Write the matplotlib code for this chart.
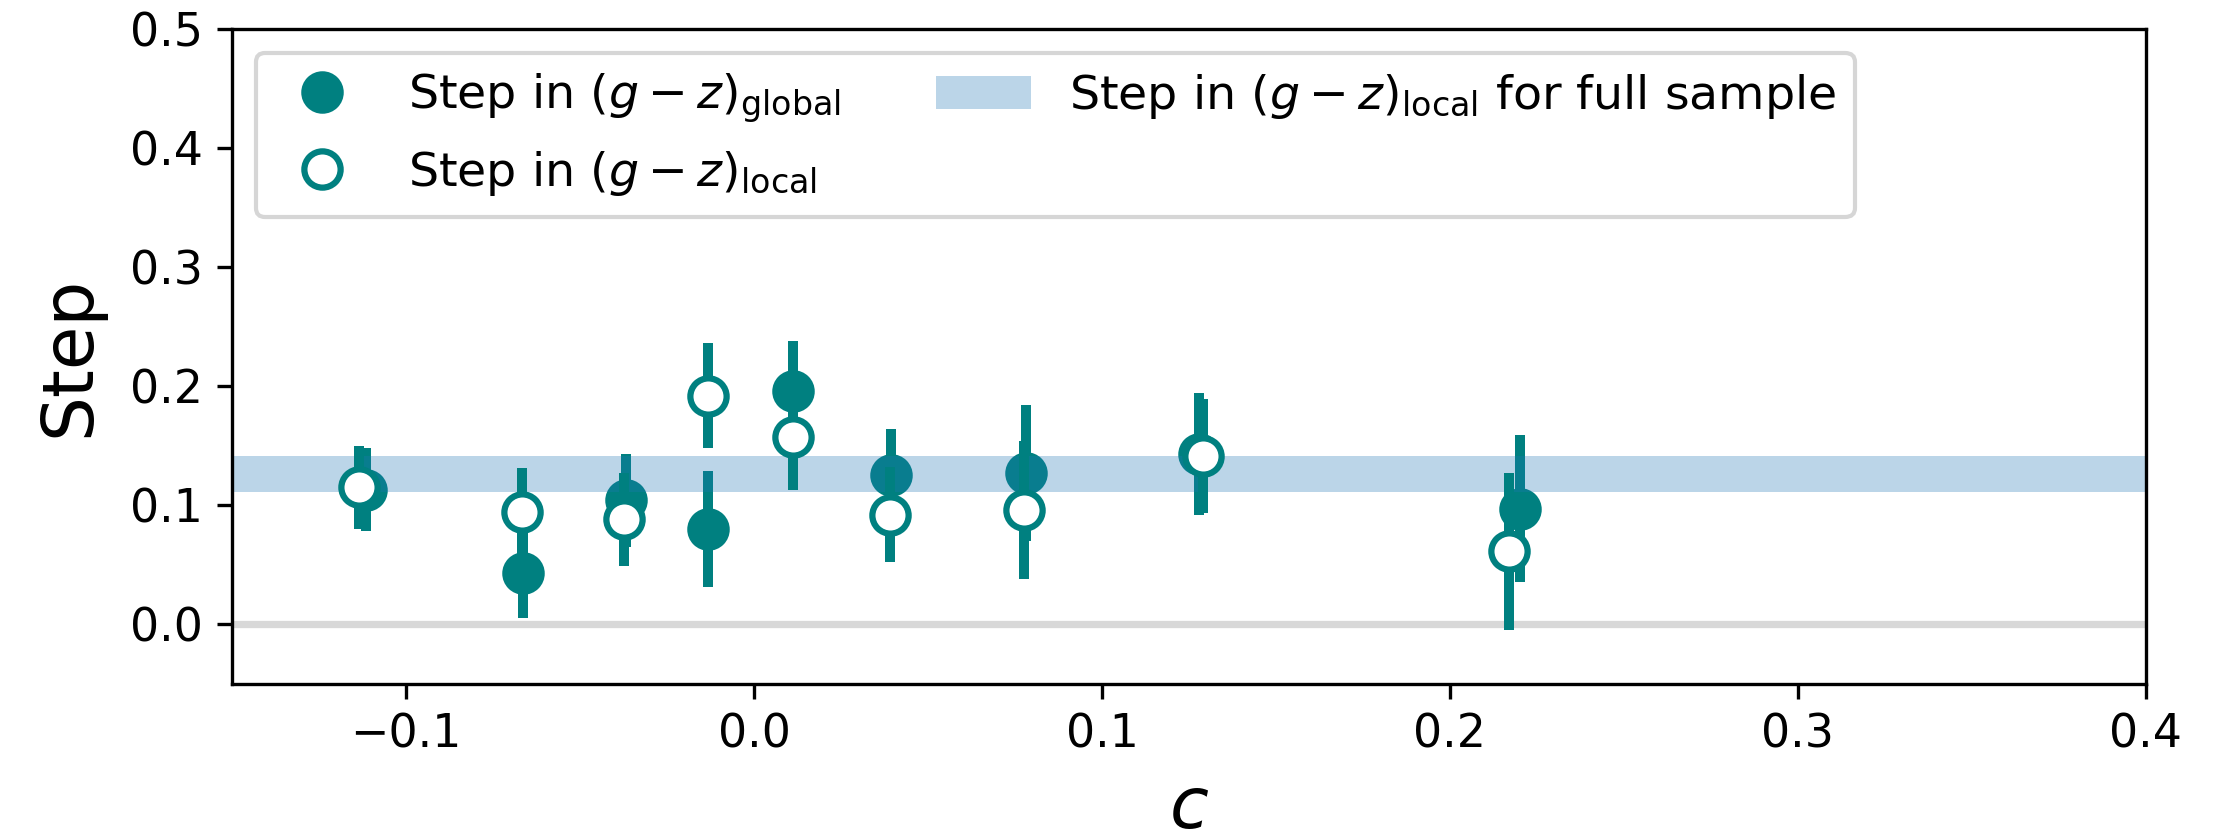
import matplotlib
matplotlib.use("Agg")
import matplotlib.pyplot as plt
from matplotlib.lines import Line2D
from matplotlib.patches import Patch

# ---- data ----
c_global = [-0.1114, -0.0663, -0.0368, -0.0132, 0.0112, 0.0394, 0.0781, 0.128, 0.220]
step_global = [0.113, 0.043, 0.104, 0.080, 0.196, 0.125, 0.127, 0.143, 0.097]
err_global = [0.035, 0.038, 0.039, 0.049, 0.042, 0.039, 0.057, 0.051, 0.062]

c_local = [-0.1134, -0.0666, -0.0373, -0.0132, 0.0112, 0.0390, 0.0775, 0.129, 0.217]
step_local = [0.115, 0.094, 0.088, 0.192, 0.157, 0.092, 0.096, 0.141, 0.061]
err_local = [0.035, 0.037, 0.039, 0.044, 0.044, 0.040, 0.058, 0.048, 0.066]

full_sample_low = 0.111
full_sample_high = 0.141

label_global = r'Step in $(g-z)_{\rm global}$'
label_local = r'Step in $(g-z)_{\rm local}$'
label_full = r'Step in $(g-z)_{\rm local}$ for full sample'
xlabel = r'$c$'
ylabel = 'Step'

teal = 'teal'

fig = plt.figure(figsize=(2233 / 300, 836 / 300), dpi=300)
ax = fig.add_axes([0.1039, 0.1824, 0.961 - 0.1039, 0.9653 - 0.1824])

ax.axhline(0, color='gray', alpha=0.3, lw=1.75, zorder=1)

ax.errorbar(c_global, step_global, yerr=err_global, fmt='o', color=teal,
            ms=8.7, mew=1.5, elinewidth=2.4, capsize=0, zorder=2)

ax.axhspan(full_sample_low, full_sample_high, color='C0', alpha=0.3, lw=0, zorder=2.5)

ax.errorbar(c_local, step_local, yerr=err_local, fmt='o', color=teal,
            mfc='white', mec=teal, ms=8.7, mew=1.5, elinewidth=2.4, capsize=0, zorder=3)

ax.set_xlim(-0.15, 0.4)
ax.set_ylim(-0.05, 0.5)
ax.set_xticks([-0.1, 0.0, 0.1, 0.2, 0.3, 0.4])
ax.set_yticks([0.0, 0.1, 0.2, 0.3, 0.4, 0.5])
ax.tick_params(labelsize=11)
ax.set_xlabel(xlabel, fontsize=17)
ax.set_ylabel(ylabel, fontsize=17, labelpad=6)

handles = [
    Line2D([], [], marker='o', ls='none', color=teal, ms=8.7, mew=1.5),
    Line2D([], [], marker='o', ls='none', color=teal, mfc='white', mec=teal, ms=8.7, mew=1.5),
    Patch(facecolor='C0', alpha=0.3, edgecolor='none'),
]
ax.legend(handles, [label_global, label_local, label_full], loc='upper left',
          ncol=2, fontsize=11.4)

fig.savefig('out.png', dpi=300)
